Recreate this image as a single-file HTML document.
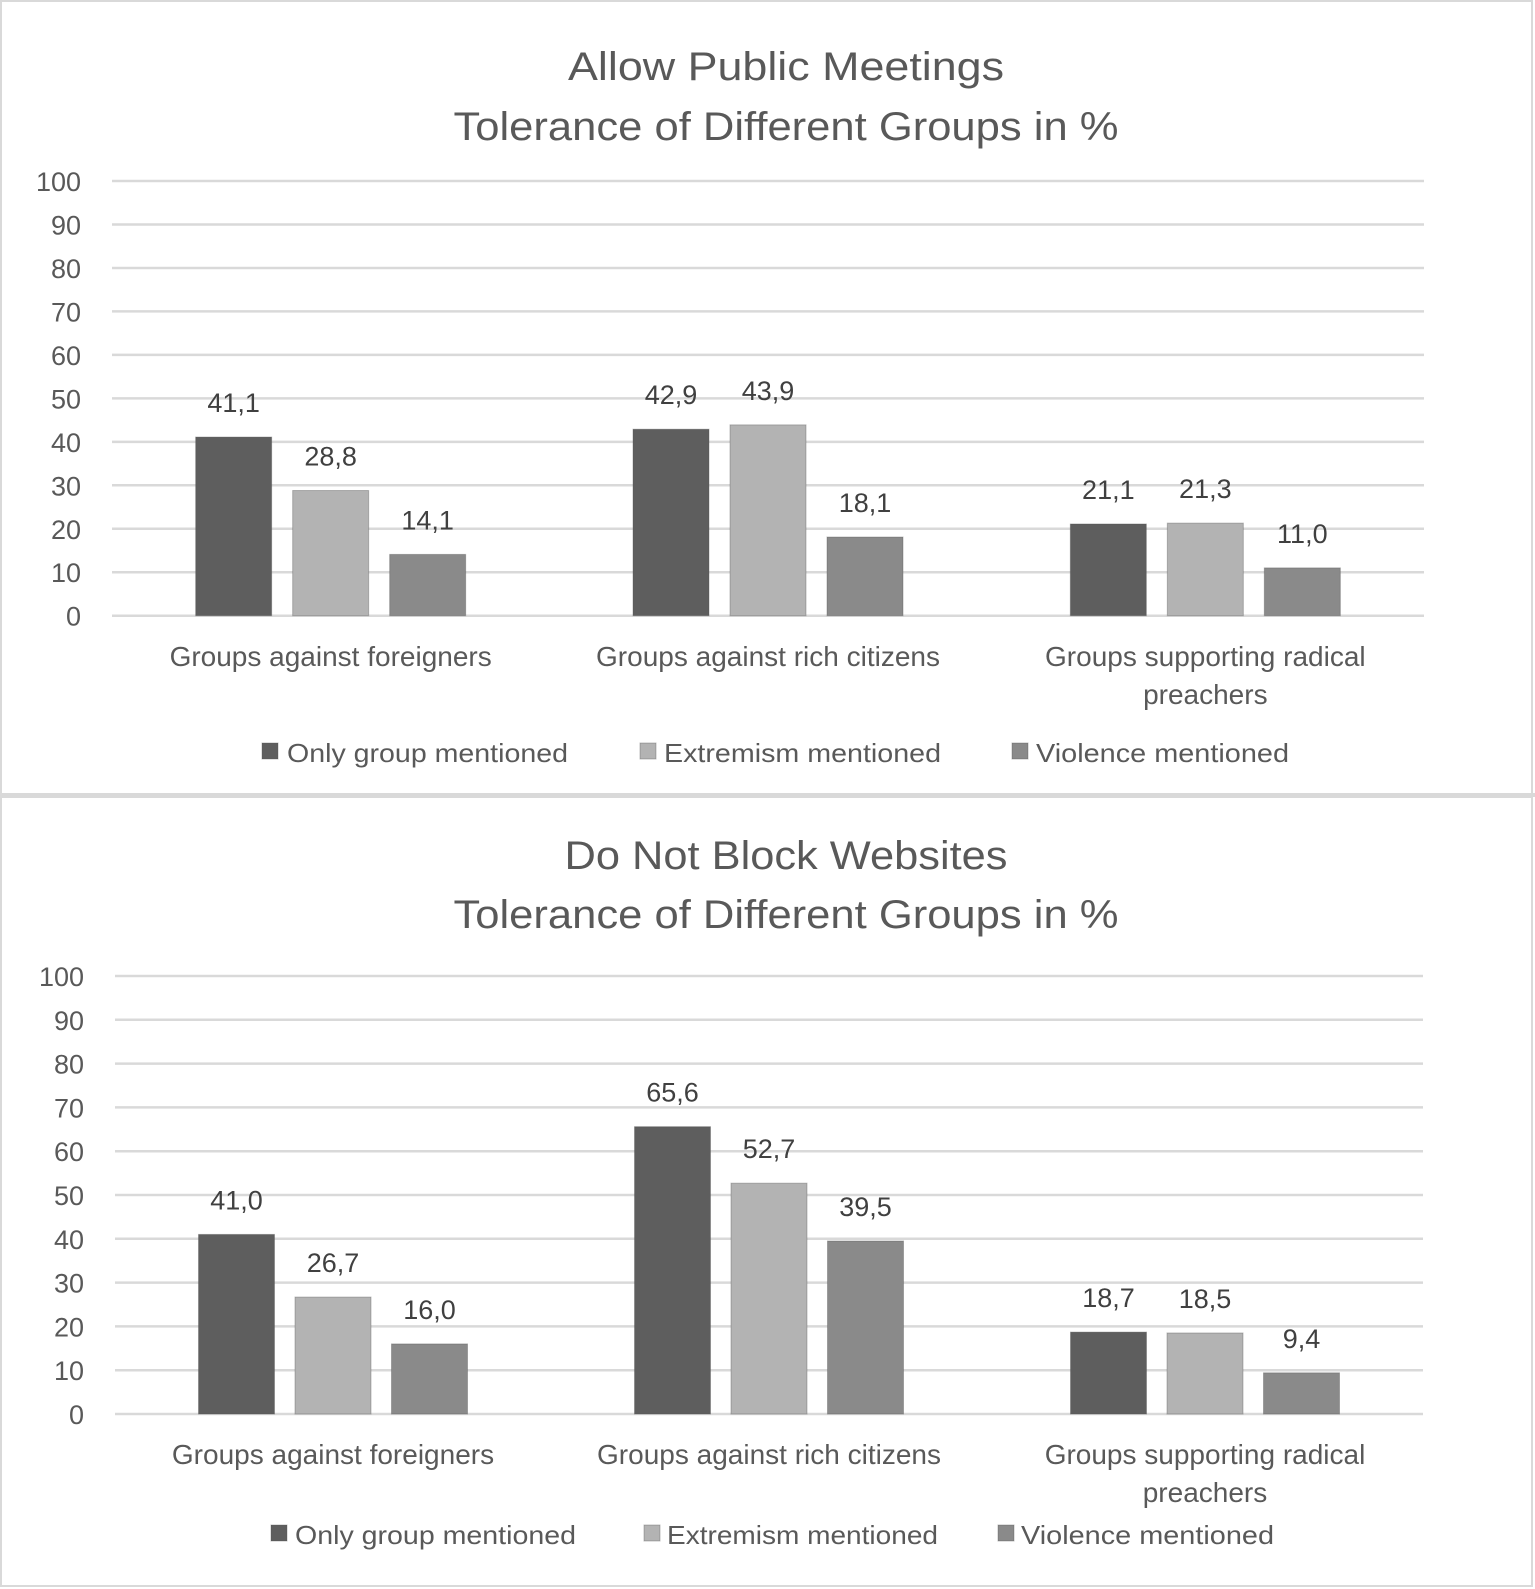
<!DOCTYPE html>
<html><head><meta charset="utf-8"><style>
html,body{margin:0;padding:0;background:#fff;}
svg{display:block;font-family:"Liberation Sans",Arial,sans-serif;}
</style></head><body>
<svg id="root" width="1535" height="1589" viewBox="0 0 1535 1589">
<rect x="1" y="1" width="1531" height="793" fill="#fff" stroke="#d9d9d9" stroke-width="2"/>
<rect x="1" y="797" width="1531" height="789" fill="#fff" stroke="#d9d9d9" stroke-width="2"/>
<rect x="0" y="793" width="1535" height="4" fill="#d9d9d9"/>
</svg>
<script>
const categories = ["Groups against foreigners","Groups against rich citizens","Groups supporting radical|preachers"];
const seriesNames = ["Only group mentioned","Extremism mentioned","Violence mentioned"];
const chart1Only = [41.1, 42.9, 21.1];
const chart1Extr = [28.8, 43.9, 21.3];
const chart1Viol = [14.1, 18.1, 11.0];
const chart2Only = [41.0, 65.6, 18.7];
const chart2Extr = [26.7, 52.7, 18.5];
const chart2Viol = [16.0, 39.5, 9.4];
const yTicks = [0,10,20,30,40,50,60,70,80,90,100];
const colors = ["#5e5e5e","#b3b3b3","#8a8a8a"];
const svg = document.getElementById('root');
const NS = "http://www.w3.org/2000/svg";
function mk(tag, attrs, txt){const e=document.createElementNS(NS,tag);for(const k in attrs)e.setAttribute(k,attrs[k]);if(txt!==undefined)e.textContent=txt;svg.appendChild(e);return e;}
function chart(cfg, series, prefix){
  const y = v => cfg.y0 - (cfg.y0-cfg.y100)*v/100;
  const cw = (cfg.right-cfg.left)/categories.length;
  const x = i => cfg.left + cw*(i+0.5);
  let t = mk('text',{x:cfg.tx,y:cfg.t1,'text-anchor':'middle','font-size':40,fill:'#595959',textLength:cfg.t1w,lengthAdjust:'spacingAndGlyphs'},cfg.title1);
   
  t = mk('text',{x:cfg.tx,y:cfg.t2,'text-anchor':'middle','font-size':40,fill:'#595959',textLength:665,lengthAdjust:'spacingAndGlyphs'},"Tolerance of Different Groups in %");
   
  yTicks.forEach(v=>{
    const l = mk('line',{x1:cfg.left,x2:cfg.right,y1:y(v),y2:y(v),stroke:'#d9d9d9','stroke-width':2.5});
     
    const tt = mk('text',{x:cfg.left-31,y:y(v)+10,'text-anchor':'end','font-size':27,fill:'#595959'},String(v));
     
  });
  categories.forEach((c,i)=>{
    series.forEach((s,j)=>{
      const cx = x(i)+(j-1)*cfg.step;
      const r = mk('rect',{x:cx-38,y:y(s[i]),width:76,height:y(0)-y(s[i]),fill:colors[j],stroke:'#4f4f4f','stroke-opacity':0.35,'stroke-width':1});
       
      const lb = mk('text',{x:cx,y:y(s[i])-25,'text-anchor':'middle','font-size':27,fill:'#404040'},s[i].toFixed(1).replace('.',','));
       
    });
    c.split('|').forEach((line,k)=>{
      const ct = mk('text',{x:x(i),y:cfg.cy+k*38,'text-anchor':'middle','font-size':28,fill:'#595959'},line);
       
    });
  });
  seriesNames.forEach((n,j)=>{
    const sq = mk('rect',{x:cfg.lsq[j],y:cfg.ly-19,width:16,height:16,fill:colors[j],stroke:'#4f4f4f','stroke-opacity':0.35});
     
    const lt = mk('text',{x:cfg.ltx[j],y:cfg.ly,'font-size':26,fill:'#595959',textLength:cfg.lw[j],lengthAdjust:'spacingAndGlyphs'},n);
     
  });
}
chart({y0:615.7,y100:181,left:112,right:1424,step:97,tx:786,t1:80,t2:140,t1w:436,title1:"Allow Public Meetings",cy:666,ly:762,lsq:[262,640,1012],ltx:[287,664,1036],lw:[281,277,253]},[chart1Only,chart1Extr,chart1Viol],'chart1');
chart({y0:1414,y100:976,left:115,right:1423,step:96.5,tx:786,t1:869,t2:928,t1w:443,title1:"Do Not Block Websites",cy:1464,ly:1544,lsq:[271,644,998],ltx:[295,667,1021],lw:[281,271,253]},[chart2Only,chart2Extr,chart2Viol],'chart2');
</script>
</body></html>
